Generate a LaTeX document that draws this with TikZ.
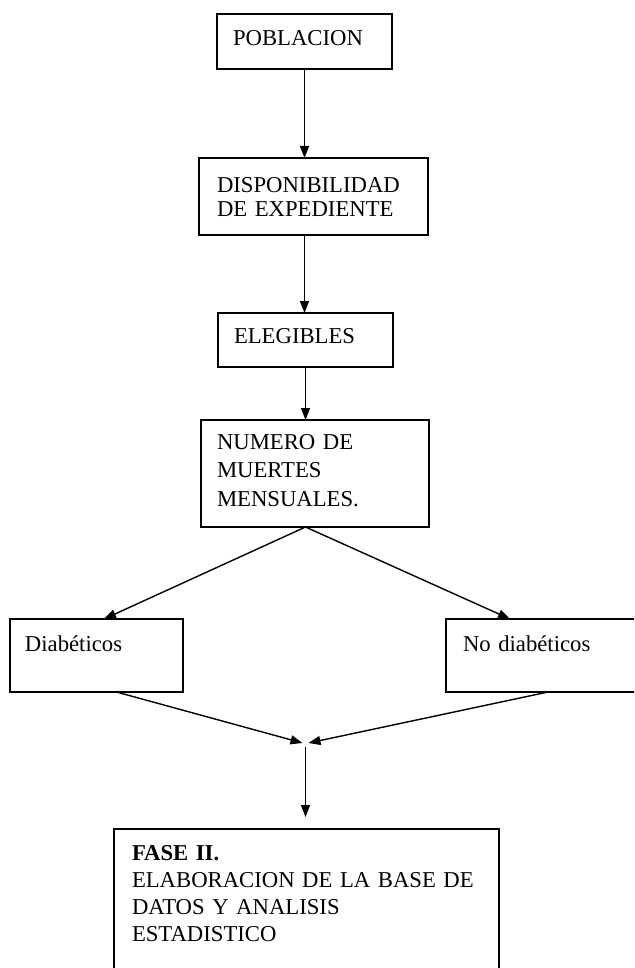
\documentclass[tikz,border=0pt]{standalone}
\usepackage{fontspec}
\setmainfont{Liberation Serif}
\usetikzlibrary{arrows.meta}
\begin{document}
\begin{tikzpicture}[x=0.5pt,y=-0.5pt,
		font=\fontsize{11.35}{12.15}\selectfont,
		box/.style={draw, line width=0.7pt, anchor=north west, align=left, inner ysep=0pt, outer sep=0pt},
		link/.style={line width=0.7pt, -{Triangle[length=6pt,width=4.5pt]}},
	]
	\useasboundingbox (0,0) rectangle (634,968);
	\clip (0,0) rectangle (634,968);

	% boxes
	\node[box, inner xsep=8pt, text width=71.5pt, text height=16pt, text depth=11.5pt] (pob) at (217,14) {POBLACION};
	\node[box, inner xsep=9pt, text width=96.5pt, text height=17pt, text depth=21.5pt,
		font=\fontsize{11.35}{12.15}\selectfont] (disp) at (199,158) {DISPONIBILIDAD\\DE EXPEDIENTE};
	\node[box, inner xsep=8pt, text width=71.5pt, text height=15pt, text depth=12pt] (eleg) at (218,313) {ELEGIBLES};
	\node[box, inner xsep=8pt, text width=98pt, text height=14.5pt, text depth=39pt,
		font=\fontsize{11.35}{14.35}\selectfont] (num) at (201,420) {NUMERO DE\\MUERTES\\MENSUALES.};
	\node[box, inner xsep=7.5pt, text width=71.5pt, text height=16pt, text depth=20.5pt] (diab) at (10,619) {Diabéticos};
	\node[box, inner xsep=8.5pt, text width=85pt, text height=16pt, text depth=20.5pt] (nodiab) at (446,619) {No diabéticos};
	\node[box, inner xsep=9pt, text width=174.5pt, text height=15.5pt, text depth=64pt,
		font=\fontsize{11.35}{13.65}\selectfont] (fase) at (114,829) {\textbf{FASE II.}\\ELABORACION DE LA BASE DE\\DATOS Y ANALISIS\\ESTADISTICO};
	\coordinate (join) at (305.5,743);

	% arrows
	\draw[link] (pob.south) -- (pob.south |- disp.north);
	\draw[link] (pob.south |- disp.south) -- (pob.south |- eleg.north);
	\draw[link] (eleg.south) -- (eleg.south |- num.north);
	\draw[link] (eleg.south |- num.south) -- ([xshift=3.75pt]diab.north);
	\draw[link] (eleg.south |- num.south) -- ([xshift=-19pt]nodiab.north);
	\draw[link] ([xshift=10pt]diab.south) -- ([xshift=-1.5pt]join);
	\draw[link] (nodiab.south) -- ([xshift=1.5pt]join);
	\draw[link, shorten <=2pt, shorten >=6pt] (join) -- (join |- fase.north);
\end{tikzpicture}
\end{document}
